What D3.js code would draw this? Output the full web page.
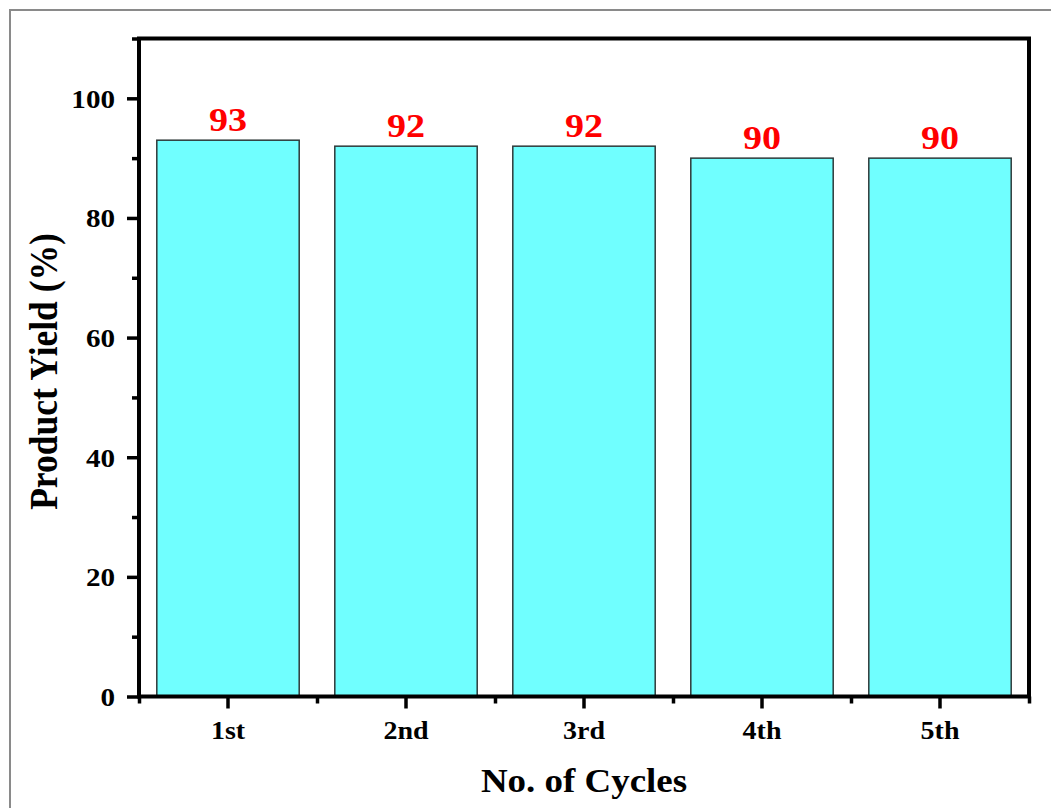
<!DOCTYPE html>
<html lang="en">
<head>
    <meta charset="UTF-8">
    <title>Product yield per cycle</title>
    <style>
        body { margin: 0; background: #fff; }
        svg text { font-family: "Liberation Serif", "Times New Roman", serif; font-weight: bold; }
    </style>
    <script src="https://d3js.org/d3.v7.min.js"></script>
</head>
<body>
<svg id="chart" width="1051" height="808"></svg>

<script>
    // data
    const cycles = ["1st", "2nd", "3rd", "4th", "5th"];
    const yields = [93, 92, 92, 90, 90];
    const yMajor = [0, 20, 40, 60, 80, 100];
    const yMinor = [10, 30, 50, 70, 90, 110];

    const svg = d3.select("#chart");
    const plotLeft = 139, plotRight = 1029, plotTop = 38.5, plotBottom = 696.5;
    const stretch = 1.12; // text in the picture is a bit wider than normal

    svg.append("rect").attr("width", 1051).attr("height", 808).attr("fill", "#fff");

    // outer frame of the figure (only top and left show)
    svg.append("path")
        .attr("d", "M10,808V10H1051")
        .attr("fill", "none")
        .attr("stroke", "#8a8a8a")
        .attr("stroke-width", 2);

    const x = d3.scaleBand()
        .domain(cycles)
        .range([plotLeft, plotRight])
        .paddingInner(0.2)
        .paddingOuter(0.1);

    const y = d3.scaleLinear()
        .domain([0, 110])
        .range([plotBottom, plotTop]);

    // bars
    svg.selectAll(".bar")
        .data(yields)
        .join("rect")
        .attr("class", "bar")
        .attr("x", (d, i) => x(cycles[i]))
        .attr("y", d => y(d))
        .attr("width", x.bandwidth())
        .attr("height", d => plotBottom - y(d))
        .attr("fill", "#70ffff")
        .attr("stroke", "#2e3a3a")
        .attr("stroke-width", 1.5);

    // value labels
    svg.selectAll(".val")
        .data(yields)
        .join("text")
        .attr("class", "val")
        .attr("transform", (d, i) => `translate(${x(cycles[i]) + x.bandwidth() / 2},${y(d) - 9.5}) scale(${stretch},1)`)
        .attr("text-anchor", "middle")
        .attr("font-size", 34)
        .attr("fill", "#ff0000")
        .text(d => d);

    function styleAxis(g) {
        g.select(".domain").remove();
        g.selectAll(".tick line").attr("stroke", "#000").attr("stroke-width", 3.5);
    }

    // y axis, major and minor ticks
    svg.append("g")
        .attr("transform", `translate(${plotLeft},0)`)
        .call(d3.axisLeft(y).tickValues(yMajor).tickSize(12).tickPadding(12))
        .call(styleAxis)
        .call(g => g.selectAll(".tick text")
            .attr("font-size", 26)
            .attr("fill", "#000")
            .attr("dy", "0.34em")
            .attr("x", null)
            .attr("transform", `translate(-24,0) scale(${stretch},1)`));

    svg.append("g")
        .attr("transform", `translate(${plotLeft},0)`)
        .call(d3.axisLeft(y).tickValues(yMinor).tickSize(7).tickFormat(""))
        .call(styleAxis);

    // x axis, major ticks at band centres, minor at band edges
    svg.append("g")
        .attr("transform", `translate(0,${plotBottom})`)
        .call(d3.axisBottom(x).tickSize(12))
        .call(styleAxis)
        .call(g => g.selectAll(".tick text")
            .attr("font-size", 25)
            .attr("fill", "#000")
            .attr("y", null)
            .attr("dy", null)
            .attr("transform", `translate(0,42) scale(${stretch},1)`));

    const edges = d3.scaleLinear().domain([0, cycles.length]).range([plotLeft, plotRight]);
    svg.append("g")
        .attr("transform", `translate(0,${plotBottom})`)
        .call(d3.axisBottom(edges).tickValues(d3.range(0, cycles.length + 1)).tickSize(7).tickFormat(""))
        .call(styleAxis);

    // plot frame
    svg.append("rect")
        .attr("x", plotLeft)
        .attr("y", plotTop)
        .attr("width", plotRight - plotLeft)
        .attr("height", plotBottom - plotTop)
        .attr("fill", "none")
        .attr("stroke", "#000")
        .attr("stroke-width", 4);

    // axis titles
    svg.append("text")
        .attr("transform", `translate(${(plotLeft + plotRight) / 2},792) scale(${stretch},1)`)
        .attr("text-anchor", "middle")
        .attr("font-size", 33)
        .text("No. of Cycles");

    svg.append("text")
        .attr("transform", `translate(57,${(plotTop + plotBottom) / 2 + 4}) scale(${stretch},1) rotate(-90)`)
        .attr("text-anchor", "middle")
        .attr("font-size", 35.5)
        .text("Product Yield (%)");
</script>
</body>
</html>
